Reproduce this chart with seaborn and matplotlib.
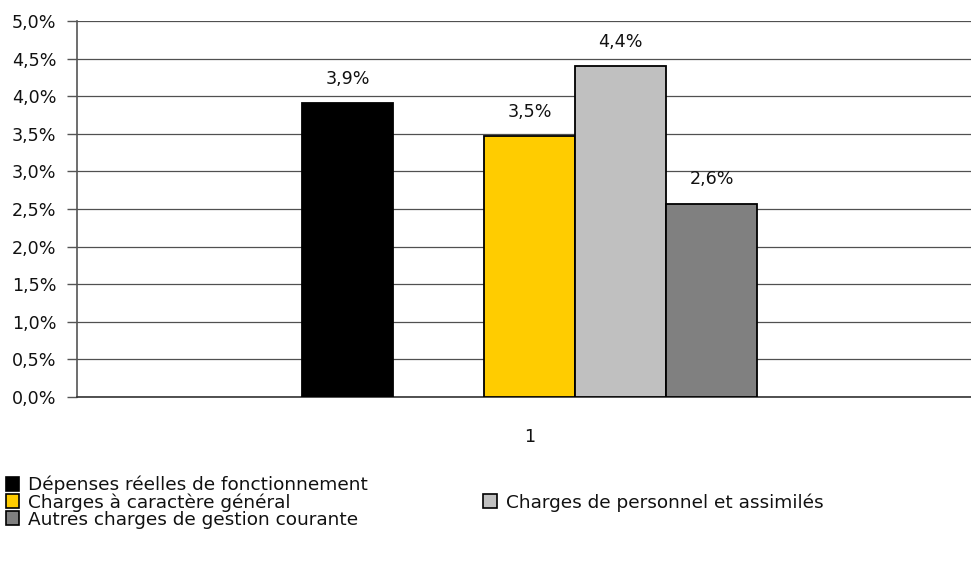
import matplotlib
matplotlib.use("Agg")
import matplotlib.pyplot as plt
import seaborn as sns
import pandas as pd
import numpy as np
from matplotlib.patches import Patch

categories = ["1"]
series = ["Dépenses réelles de fonctionnement", " ", "Charges à caractère général",
          "Charges de personnel et assimilés", "Autres charges de gestion courante"]
values = [3.91, np.nan, 3.47, 4.40, 2.57]
colors = ["#000000", "#FFFFFF", "#FFCC00", "#C0C0C0", "#808080"]
yticks = [0.0, 0.5, 1.0, 1.5, 2.0, 2.5, 3.0, 3.5, 4.0, 4.5, 5.0]

df = pd.DataFrame({"cat": categories * len(series), "serie": series, "val": values})

sns.set_theme(style="white")
plt.rcParams['font.family'] = ['DejaVu Sans']
fs = 12.6
lfs = 13.3

fig = plt.figure(figsize=(9.71, 5.63), dpi=100)
ax = fig.add_axes([77/971, 1-397/563, (982-77)/971, (397-21)/563])

sns.barplot(data=df, x="cat", y="val", hue="serie", hue_order=series,
            palette=dict(zip(series, colors)), width=0.503, dodge=True, saturation=1,
            edgecolor="#000000", linewidth=1.3, ax=ax, legend=False, zorder=3)

ax.set_xlim(-0.5, 0.5)
ax.set_ylim(0, 5.0)
ax.set_yticks(yticks)
ax.set_yticklabels([f"{t:.1f}%".replace(".", ",") for t in yticks], fontsize=fs, color="#111111")
ax.set_xlabel("")
ax.set_ylabel("")
ax.tick_params(axis="x", labelsize=fs, pad=22, length=0, colors="#111111")
ax.tick_params(axis="y", length=7, width=1, color="#555555", left=True, pad=8)
ax.yaxis.grid(True, color="#505050", linewidth=0.9, zorder=0)
ax.set_axisbelow(True)
for s in ["top", "right"]:
    ax.spines[s].set_visible(False)
ax.spines["left"].set_color("#555555")
ax.spines["left"].set_linewidth(1.2)
ax.spines["bottom"].set_color("#333333")
ax.spines["bottom"].set_linewidth(1.2)

for cont in ax.containers:
    vals = cont.datavalues
    labels = ["" if np.isnan(v) else f"{v:.1f}%".replace(".", ",") for v in vals]
    ax.bar_label(cont, labels=labels, padding=11, fontsize=fs, color="#111111")

# legend: column-wise fill, blank entry in column 2 row 1
order = [0, 2, 4, 1, 3]
handles = []
for i in order:
    if series[i].strip() == "":
        handles.append(Patch(facecolor="none", edgecolor="none"))
    else:
        handles.append(Patch(facecolor=colors[i], edgecolor="#000000", linewidth=1.2))
labels = [series[i] for i in order]
fig.legend(handles, labels, loc="upper left", bbox_to_anchor=(0.0, 1-470/563),
           ncol=2, frameon=False, fontsize=lfs, handlelength=0.72, handleheight=0.8,
           handletextpad=0.5, labelspacing=-0.05, columnspacing=6.25, borderaxespad=0,
           borderpad=0.3, labelcolor="#111111")

fig.savefig("out.png", dpi=100)
